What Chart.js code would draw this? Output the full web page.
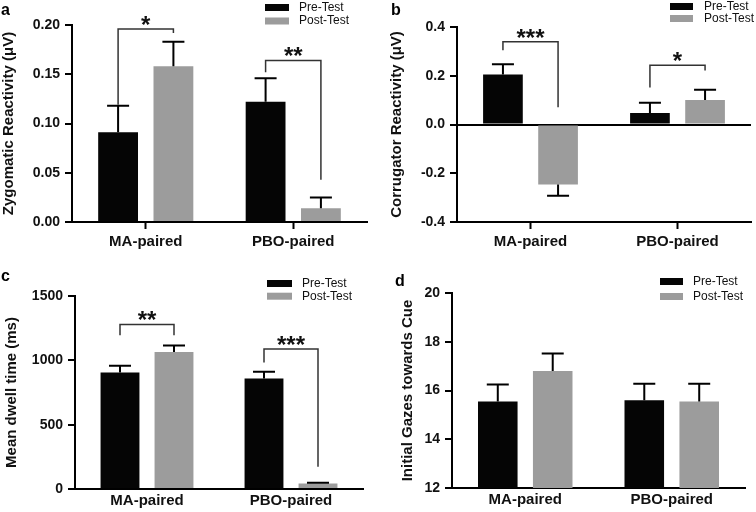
<!DOCTYPE html>
<html>
<head>
<meta charset="utf-8">
<script src="https://cdn.jsdelivr.net/npm/chart.js@4.4.1/dist/chart.umd.min.js"></script>
<style>
  body { margin: 0; background: #fff; }
  #wrap { position: relative; width: 756px; height: 512px; overflow: hidden; background: #fff; }
  canvas { position: absolute; }
</style>
</head>
<body>
<div id="wrap">
  <canvas id="chartA" width="378" height="256" style="left:0;top:0"></canvas>
  <canvas id="chartB" width="378" height="256" style="left:378px;top:0"></canvas>
  <canvas id="chartC" width="378" height="256" style="left:0;top:256px"></canvas>
  <canvas id="chartD" width="378" height="256" style="left:378px;top:256px"></canvas>
</div>
<script>
const groups = ["MA-paired", "PBO-paired"];
const seriesNames = ["Pre-Test", "Post-Test"];

// a - zygomatic
const zygoPre = [0.091, 0.122];
const zygoPost = [0.158, 0.014];
const zygoPreErr = [0.027, 0.024];
const zygoPostErr = [0.025, 0.011];

// b - corrugator
const corrPre = [0.205, 0.047];
const corrPost = [-0.246, 0.101];
const corrPreErr = [0.042, 0.042];
const corrPostErr = [0.046, 0.042];

// c - dwell time
const dwellPre = [906, 859];
const dwellPost = [1065, 42];
const dwellPreErr = [52, 53];
const dwellPostErr = [50, 7];

// d - initial gazes
const gazePre = [15.55, 15.6];
const gazePost = [16.8, 15.55];
const gazePreErr = [0.7, 0.68];
const gazePostErr = [0.72, 0.73];

// significance brackets: [group, bracket top, left leg end, right leg end, stars]
const zygoSig = [[0, 0.196, 0.119, 0.192, "*"], [1, 0.164, 0.152, 0.043, "**"]];
const corrSig = [[0, 0.339, 0.305, 0.071, "***"], [1, 0.243, 0.152, 0.222, "*"]];
const dwellSig = [[0, 1279, 1195, 1195, "**"], [1, 1088, 984, 172, "***"]];
const gazeSig = [];

const FONT = "'Liberation Sans', Arial, Helvetica, sans-serif";
const BLACK = "#050505";
const GREY = "#9c9c9c";

// error bars, only the outward half like the original
const errorBars = {
  id: "errorBars",
  afterDatasetsDraw(chart, args, opts) {
    const ctx = chart.ctx;
    const y = chart.scales.y;
    ctx.save();
    ctx.strokeStyle = "#000";
    ctx.lineWidth = 2;
    opts.errs.forEach((errs, di) => {
      const meta = chart.getDatasetMeta(di);
      meta.data.forEach((bar, j) => {
        const v = chart.data.datasets[di].data[j];
        const end = v >= 0 ? v + errs[j] : v - errs[j];
        const py = y.getPixelForValue(end);
        ctx.beginPath();
        ctx.moveTo(bar.x, bar.y);
        ctx.lineTo(bar.x, py);
        ctx.moveTo(bar.x - 11, py);
        ctx.lineTo(bar.x + 11, py);
        ctx.stroke();
      });
    });
    ctx.restore();
  }
};

const sigBrackets = {
  id: "sigBrackets",
  afterDatasetsDraw(chart, args, opts) {
    const ctx = chart.ctx;
    const y = chart.scales.y;
    ctx.save();
    ctx.strokeStyle = "#333";
    ctx.lineWidth = 1.5;
    ctx.fillStyle = "#111";
    ctx.font = "bold 24px " + FONT;
    ctx.textAlign = "center";
    ctx.textBaseline = "alphabetic";
    opts.marks.forEach(m => {
      const x1 = chart.getDatasetMeta(0).data[m[0]].x;
      const x2 = chart.getDatasetMeta(1).data[m[0]].x;
      const top = y.getPixelForValue(m[1]);
      ctx.beginPath();
      ctx.moveTo(x1, y.getPixelForValue(m[2]));
      ctx.lineTo(x1, top);
      ctx.lineTo(x2, top);
      ctx.lineTo(x2, y.getPixelForValue(m[3]));
      ctx.stroke();
      ctx.fillText(m[4], (x1 + x2) / 2, top + 4);
    });
    ctx.restore();
  }
};

const panelKey = {
  id: "panelKey",
  afterDraw(chart, args, o) {
    const ctx = chart.ctx;
    ctx.save();
    ctx.font = "bold 16px " + FONT;
    ctx.fillStyle = "#000";
    ctx.textBaseline = "alphabetic";
    ctx.fillText(o.letter, o.lx, o.ly);
    ctx.font = "12px " + FONT;
    ctx.textBaseline = "middle";
    chart.data.datasets.forEach((ds, i) => {
      const by = o.y + i * o.gap;
      ctx.fillStyle = ds.backgroundColor;
      ctx.fillRect(o.x, by, o.w, 7);
      ctx.fillStyle = "#111";
      ctx.fillText(ds.label, o.x + o.tx, by + 3.5);
    });
    ctx.restore();
  }
};

function makeChart(id, c) {
  return new Chart(document.getElementById(id), {
    type: "bar",
    data: {
      labels: groups,
      datasets: [
        { label: seriesNames[0], data: c.pre, backgroundColor: BLACK },
        { label: seriesNames[1], data: c.post, backgroundColor: GREY }
      ]
    },
    options: {
      responsive: false,
      animation: false,
      layout: { padding: { top: c.area[1], right: 378 - c.area[2], left: 0, bottom: 0 } },
      datasets: { bar: { categoryPercentage: 0.75, barPercentage: 0.72 } },
      plugins: {
        legend: { display: false },
        tooltip: { enabled: false },
        errorBars: { errs: c.errs },
        sigBrackets: { marks: c.sig },
        panelKey: c.key
      },
      scales: {
        x: {
          afterFit: s => { s.height = 256 - c.area[3]; },
          grid: { display: c.xTicks, drawTicks: c.xTicks, drawOnChartArea: false, offset: false, tickLength: 7, tickWidth: 2, tickColor: "#000" },
          border: { color: "#000", width: 2 },
          ticks: { color: "#111", padding: c.xTicks ? 4 : 3, font: { family: FONT, size: 15, weight: "bold" } }
        },
        y: {
          min: c.min, max: c.max,
          afterFit: s => { s.width = c.area[0]; },
          grid: {
            drawOnChartArea: !!c.zeroLine,
            color: ctx => (c.zeroLine && ctx.tick && ctx.tick.value === 0) ? "#000" : "rgba(0,0,0,0)",
            lineWidth: 2, tickLength: 7, tickWidth: 2, tickColor: "#000"
          },
          border: { color: "#000", width: 2 },
          ticks: {
            stepSize: c.step, padding: 5, color: "#111",
            font: { family: FONT, size: 14, weight: "bold" },
            callback: v => Number(v).toFixed(c.dec)
          },
          title: {
            display: true, text: c.title, color: "#111",
            font: { family: FONT, size: 15, weight: "bold" },
            padding: { top: c.titlePad, bottom: 0 }
          }
        }
      }
    },
    plugins: [errorBars, sigBrackets, panelKey]
  });
}

makeChart("chartA", {
  pre: zygoPre, post: zygoPost, errs: [zygoPreErr, zygoPostErr], sig: zygoSig,
  min: 0, max: 0.2, step: 0.05, dec: 2, area: [72, 25, 367, 222], xTicks: true,
  title: "Zygomatic Reactivity (\u03bcV)", titlePad: 0,
  key: { letter: "a", lx: 1, ly: 15, x: 265, y: 4, gap: 13.5, w: 24, tx: 34 }
});

makeChart("chartB", {
  pre: corrPre, post: corrPost, errs: [corrPreErr, corrPostErr], sig: corrSig,
  min: -0.4, max: 0.4, step: 0.2, dec: 1, area: [79, 27, 373, 222], xTicks: true, zeroLine: true,
  title: "Corrugator Reactivity (\u03bcV)", titlePad: 10,
  key: { letter: "b", lx: 13, ly: 15, x: 292, y: 3, gap: 12, w: 23, tx: 34 }
});

makeChart("chartC", {
  pre: dwellPre, post: dwellPost, errs: [dwellPreErr, dwellPostErr], sig: dwellSig,
  min: 0, max: 1500, step: 500, dec: 0, area: [75, 40, 363, 233], xTicks: false,
  title: "Mean dwell time (ms)", titlePad: 3,
  key: { letter: "c", lx: 1, ly: 25, x: 267, y: 24, gap: 12.7, w: 25, tx: 35 }
});

makeChart("chartD", {
  pre: gazePre, post: gazePost, errs: [gazePreErr, gazePostErr], sig: gazeSig,
  min: 12, max: 20, step: 2, dec: 0, area: [74, 37, 367, 232], xTicks: false,
  title: "Initial Gazes towards Cue", titlePad: 21,
  key: { letter: "d", lx: 17, ly: 30, x: 282, y: 22, gap: 15, w: 23, tx: 33 }
});
</script>
</body>
</html>
